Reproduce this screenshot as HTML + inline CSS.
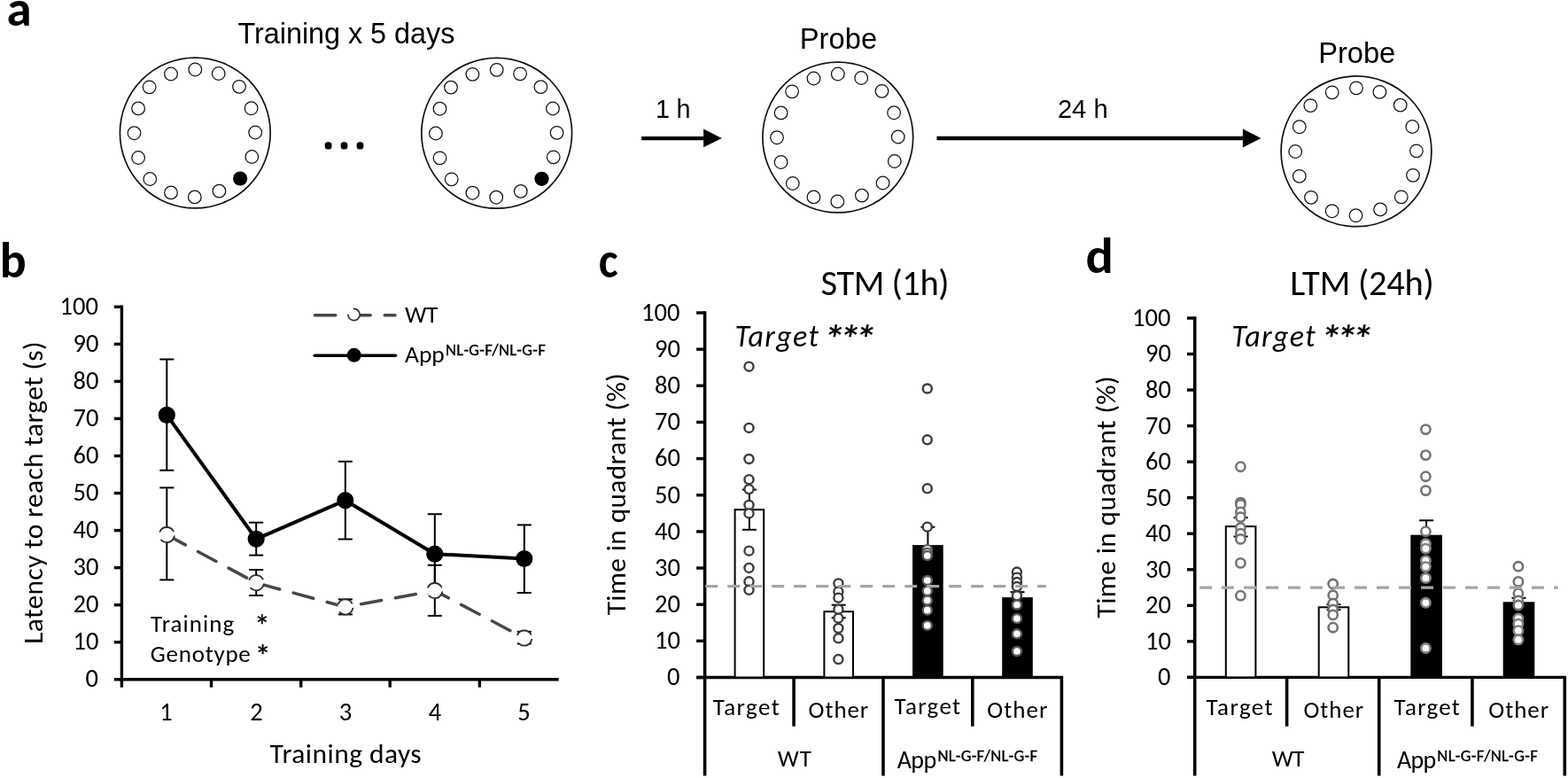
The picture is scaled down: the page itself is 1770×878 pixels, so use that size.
<!DOCTYPE html>
<html><head><meta charset="utf-8"><title>Figure</title>
<style>html,body{margin:0;padding:0;background:#fff;}svg{display:block;}</style>
</head><body>
<svg width="1770" height="878" viewBox="0 0 1770 878">
<rect width="1770" height="878" fill="#fff"/>
<circle cx="220.30" cy="150.00" r="84.9" fill="#fff" stroke="#111" stroke-width="1.7"/>
<circle cx="220.30" cy="78.50" r="7.3" fill="#fff" stroke="#111" stroke-width="1.25"/>
<circle cx="246.70" cy="83.00" r="7.3" fill="#fff" stroke="#111" stroke-width="1.25"/>
<circle cx="270.00" cy="97.80" r="7.3" fill="#fff" stroke="#111" stroke-width="1.25"/>
<circle cx="283.60" cy="122.20" r="7.3" fill="#fff" stroke="#111" stroke-width="1.25"/>
<circle cx="288.20" cy="149.50" r="7.3" fill="#fff" stroke="#111" stroke-width="1.25"/>
<circle cx="284.30" cy="177.00" r="7.3" fill="#fff" stroke="#111" stroke-width="1.25"/>
<circle cx="271.10" cy="201.50" r="8.1" fill="#000" stroke="none" stroke-width="0"/>
<circle cx="247.40" cy="215.60" r="7.3" fill="#fff" stroke="#111" stroke-width="1.25"/>
<circle cx="219.80" cy="222.40" r="7.3" fill="#fff" stroke="#111" stroke-width="1.25"/>
<circle cx="193.00" cy="217.40" r="7.3" fill="#fff" stroke="#111" stroke-width="1.25"/>
<circle cx="169.30" cy="202.00" r="7.3" fill="#fff" stroke="#111" stroke-width="1.25"/>
<circle cx="156.10" cy="178.00" r="7.3" fill="#fff" stroke="#111" stroke-width="1.25"/>
<circle cx="151.50" cy="150.20" r="7.3" fill="#fff" stroke="#111" stroke-width="1.25"/>
<circle cx="156.10" cy="122.40" r="7.3" fill="#fff" stroke="#111" stroke-width="1.25"/>
<circle cx="168.60" cy="98.30" r="7.3" fill="#fff" stroke="#111" stroke-width="1.25"/>
<circle cx="193.00" cy="83.50" r="7.3" fill="#fff" stroke="#111" stroke-width="1.25"/>
<circle cx="560.70" cy="150.30" r="84.9" fill="#fff" stroke="#111" stroke-width="1.7"/>
<circle cx="560.70" cy="78.80" r="7.3" fill="#fff" stroke="#111" stroke-width="1.25"/>
<circle cx="587.10" cy="83.30" r="7.3" fill="#fff" stroke="#111" stroke-width="1.25"/>
<circle cx="610.40" cy="98.10" r="7.3" fill="#fff" stroke="#111" stroke-width="1.25"/>
<circle cx="624.00" cy="122.50" r="7.3" fill="#fff" stroke="#111" stroke-width="1.25"/>
<circle cx="628.60" cy="149.80" r="7.3" fill="#fff" stroke="#111" stroke-width="1.25"/>
<circle cx="624.70" cy="177.30" r="7.3" fill="#fff" stroke="#111" stroke-width="1.25"/>
<circle cx="611.50" cy="201.80" r="8.1" fill="#000" stroke="none" stroke-width="0"/>
<circle cx="587.80" cy="215.90" r="7.3" fill="#fff" stroke="#111" stroke-width="1.25"/>
<circle cx="560.20" cy="222.70" r="7.3" fill="#fff" stroke="#111" stroke-width="1.25"/>
<circle cx="533.40" cy="217.70" r="7.3" fill="#fff" stroke="#111" stroke-width="1.25"/>
<circle cx="509.70" cy="202.30" r="7.3" fill="#fff" stroke="#111" stroke-width="1.25"/>
<circle cx="496.50" cy="178.30" r="7.3" fill="#fff" stroke="#111" stroke-width="1.25"/>
<circle cx="491.90" cy="150.50" r="7.3" fill="#fff" stroke="#111" stroke-width="1.25"/>
<circle cx="496.50" cy="122.70" r="7.3" fill="#fff" stroke="#111" stroke-width="1.25"/>
<circle cx="509.00" cy="98.60" r="7.3" fill="#fff" stroke="#111" stroke-width="1.25"/>
<circle cx="533.40" cy="83.80" r="7.3" fill="#fff" stroke="#111" stroke-width="1.25"/>
<circle cx="945.80" cy="155.00" r="84.9" fill="#fff" stroke="#111" stroke-width="1.7"/>
<circle cx="945.80" cy="83.50" r="7.3" fill="#fff" stroke="#111" stroke-width="1.25"/>
<circle cx="972.20" cy="88.00" r="7.3" fill="#fff" stroke="#111" stroke-width="1.25"/>
<circle cx="995.50" cy="102.80" r="7.3" fill="#fff" stroke="#111" stroke-width="1.25"/>
<circle cx="1009.10" cy="127.20" r="7.3" fill="#fff" stroke="#111" stroke-width="1.25"/>
<circle cx="1013.70" cy="154.50" r="7.3" fill="#fff" stroke="#111" stroke-width="1.25"/>
<circle cx="1009.80" cy="182.00" r="7.3" fill="#fff" stroke="#111" stroke-width="1.25"/>
<circle cx="996.60" cy="206.50" r="7.3" fill="#fff" stroke="#111" stroke-width="1.25"/>
<circle cx="972.90" cy="220.60" r="7.3" fill="#fff" stroke="#111" stroke-width="1.25"/>
<circle cx="945.30" cy="227.40" r="7.3" fill="#fff" stroke="#111" stroke-width="1.25"/>
<circle cx="918.50" cy="222.40" r="7.3" fill="#fff" stroke="#111" stroke-width="1.25"/>
<circle cx="894.80" cy="207.00" r="7.3" fill="#fff" stroke="#111" stroke-width="1.25"/>
<circle cx="881.60" cy="183.00" r="7.3" fill="#fff" stroke="#111" stroke-width="1.25"/>
<circle cx="877.00" cy="155.20" r="7.3" fill="#fff" stroke="#111" stroke-width="1.25"/>
<circle cx="881.60" cy="127.40" r="7.3" fill="#fff" stroke="#111" stroke-width="1.25"/>
<circle cx="894.10" cy="103.30" r="7.3" fill="#fff" stroke="#111" stroke-width="1.25"/>
<circle cx="918.50" cy="88.50" r="7.3" fill="#fff" stroke="#111" stroke-width="1.25"/>
<circle cx="1531.00" cy="170.80" r="84.9" fill="#fff" stroke="#111" stroke-width="1.7"/>
<circle cx="1531.00" cy="99.30" r="7.3" fill="#fff" stroke="#111" stroke-width="1.25"/>
<circle cx="1557.40" cy="103.80" r="7.3" fill="#fff" stroke="#111" stroke-width="1.25"/>
<circle cx="1580.70" cy="118.60" r="7.3" fill="#fff" stroke="#111" stroke-width="1.25"/>
<circle cx="1594.30" cy="143.00" r="7.3" fill="#fff" stroke="#111" stroke-width="1.25"/>
<circle cx="1598.90" cy="170.30" r="7.3" fill="#fff" stroke="#111" stroke-width="1.25"/>
<circle cx="1595.00" cy="197.80" r="7.3" fill="#fff" stroke="#111" stroke-width="1.25"/>
<circle cx="1581.80" cy="222.30" r="7.3" fill="#fff" stroke="#111" stroke-width="1.25"/>
<circle cx="1558.10" cy="236.40" r="7.3" fill="#fff" stroke="#111" stroke-width="1.25"/>
<circle cx="1530.50" cy="243.20" r="7.3" fill="#fff" stroke="#111" stroke-width="1.25"/>
<circle cx="1503.70" cy="238.20" r="7.3" fill="#fff" stroke="#111" stroke-width="1.25"/>
<circle cx="1480.00" cy="222.80" r="7.3" fill="#fff" stroke="#111" stroke-width="1.25"/>
<circle cx="1466.80" cy="198.80" r="7.3" fill="#fff" stroke="#111" stroke-width="1.25"/>
<circle cx="1462.20" cy="171.00" r="7.3" fill="#fff" stroke="#111" stroke-width="1.25"/>
<circle cx="1466.80" cy="143.20" r="7.3" fill="#fff" stroke="#111" stroke-width="1.25"/>
<circle cx="1479.30" cy="119.10" r="7.3" fill="#fff" stroke="#111" stroke-width="1.25"/>
<circle cx="1503.70" cy="104.30" r="7.3" fill="#fff" stroke="#111" stroke-width="1.25"/>
<rect x="366.70" y="160.3" width="7.8" height="8.2" rx="3.3" ry="3.5" fill="#000"/>
<rect x="384.60" y="160.3" width="7.8" height="8.2" rx="3.3" ry="3.5" fill="#000"/>
<rect x="402.60" y="160.3" width="7.8" height="8.2" rx="3.3" ry="3.5" fill="#000"/>
<line x1="724.20" y1="156.10" x2="796.00" y2="156.10" stroke="#000" stroke-width="4.4"/>
<polygon points="794.1,145.4 814.8,155.9 794.1,166.3" fill="#000"/>
<line x1="1057.50" y1="156.00" x2="1405.00" y2="156.00" stroke="#000" stroke-width="4.4"/>
<polygon points="1402.9,145.6 1423.5,156.0 1402.9,166.5" fill="#000"/>
<line x1="137.40" y1="344.60" x2="137.40" y2="775.70" stroke="#000" stroke-width="3.4"/>
<line x1="128.80" y1="766.80" x2="137.40" y2="766.80" stroke="#000" stroke-width="3.4"/>
<line x1="128.80" y1="724.75" x2="137.40" y2="724.75" stroke="#000" stroke-width="3.4"/>
<line x1="128.80" y1="682.70" x2="137.40" y2="682.70" stroke="#000" stroke-width="3.4"/>
<line x1="128.80" y1="640.65" x2="137.40" y2="640.65" stroke="#000" stroke-width="3.4"/>
<line x1="128.80" y1="598.60" x2="137.40" y2="598.60" stroke="#000" stroke-width="3.4"/>
<line x1="128.80" y1="556.55" x2="137.40" y2="556.55" stroke="#000" stroke-width="3.4"/>
<line x1="128.80" y1="514.50" x2="137.40" y2="514.50" stroke="#000" stroke-width="3.4"/>
<line x1="128.80" y1="472.45" x2="137.40" y2="472.45" stroke="#000" stroke-width="3.4"/>
<line x1="128.80" y1="430.40" x2="137.40" y2="430.40" stroke="#000" stroke-width="3.4"/>
<line x1="128.80" y1="388.35" x2="137.40" y2="388.35" stroke="#000" stroke-width="3.4"/>
<line x1="128.80" y1="346.30" x2="137.40" y2="346.30" stroke="#000" stroke-width="3.4"/>
<line x1="135.70" y1="766.80" x2="630.70" y2="766.80" stroke="#000" stroke-width="3.6"/>
<line x1="238.50" y1="766.80" x2="238.50" y2="775.70" stroke="#000" stroke-width="3.4"/>
<line x1="339.70" y1="766.80" x2="339.70" y2="775.70" stroke="#000" stroke-width="3.4"/>
<line x1="440.20" y1="766.80" x2="440.20" y2="775.70" stroke="#000" stroke-width="3.4"/>
<line x1="541.40" y1="766.80" x2="541.40" y2="775.70" stroke="#000" stroke-width="3.4"/>
<line x1="188.30" y1="405.50" x2="188.30" y2="530.80" stroke="#000" stroke-width="2"/>
<line x1="180.30" y1="405.50" x2="196.30" y2="405.50" stroke="#000" stroke-width="2"/>
<line x1="180.30" y1="530.80" x2="196.30" y2="530.80" stroke="#000" stroke-width="2"/>
<line x1="289.20" y1="589.70" x2="289.20" y2="626.60" stroke="#000" stroke-width="2"/>
<line x1="281.20" y1="589.70" x2="297.20" y2="589.70" stroke="#000" stroke-width="2"/>
<line x1="281.20" y1="626.60" x2="297.20" y2="626.60" stroke="#000" stroke-width="2"/>
<line x1="389.80" y1="520.80" x2="389.80" y2="608.50" stroke="#000" stroke-width="2"/>
<line x1="381.80" y1="520.80" x2="397.80" y2="520.80" stroke="#000" stroke-width="2"/>
<line x1="381.80" y1="608.50" x2="397.80" y2="608.50" stroke="#000" stroke-width="2"/>
<line x1="490.80" y1="580.20" x2="490.80" y2="670.20" stroke="#000" stroke-width="2"/>
<line x1="482.80" y1="580.20" x2="498.80" y2="580.20" stroke="#000" stroke-width="2"/>
<line x1="482.80" y1="670.20" x2="498.80" y2="670.20" stroke="#000" stroke-width="2"/>
<line x1="591.80" y1="592.40" x2="591.80" y2="669.00" stroke="#000" stroke-width="2"/>
<line x1="583.80" y1="592.40" x2="599.80" y2="592.40" stroke="#000" stroke-width="2"/>
<line x1="583.80" y1="669.00" x2="599.80" y2="669.00" stroke="#000" stroke-width="2"/>
<line x1="188.30" y1="550.40" x2="188.30" y2="654.40" stroke="#000" stroke-width="2"/>
<line x1="180.30" y1="550.40" x2="196.30" y2="550.40" stroke="#000" stroke-width="2"/>
<line x1="180.30" y1="654.40" x2="196.30" y2="654.40" stroke="#000" stroke-width="2"/>
<line x1="289.20" y1="643.00" x2="289.20" y2="672.00" stroke="#000" stroke-width="2"/>
<line x1="281.20" y1="643.00" x2="297.20" y2="643.00" stroke="#000" stroke-width="2"/>
<line x1="281.20" y1="672.00" x2="297.20" y2="672.00" stroke="#000" stroke-width="2"/>
<line x1="389.80" y1="676.40" x2="389.80" y2="693.40" stroke="#000" stroke-width="2"/>
<line x1="381.80" y1="676.40" x2="397.80" y2="676.40" stroke="#000" stroke-width="2"/>
<line x1="381.80" y1="693.40" x2="397.80" y2="693.40" stroke="#000" stroke-width="2"/>
<line x1="490.80" y1="637.80" x2="490.80" y2="694.90" stroke="#000" stroke-width="2"/>
<line x1="482.80" y1="637.80" x2="498.80" y2="637.80" stroke="#000" stroke-width="2"/>
<line x1="482.80" y1="694.90" x2="498.80" y2="694.90" stroke="#000" stroke-width="2"/>
<line x1="591.80" y1="712.90" x2="591.80" y2="726.50" stroke="#000" stroke-width="2"/>
<line x1="583.80" y1="712.90" x2="599.80" y2="712.90" stroke="#000" stroke-width="2"/>
<line x1="583.80" y1="726.50" x2="599.80" y2="726.50" stroke="#000" stroke-width="2"/>
<polyline points="188.3,468.4 289.2,608.3 389.8,564.7 490.8,625.2 591.8,630.5" fill="none" stroke="#000" stroke-width="4" stroke-linejoin="round"/>
<polyline points="188.3,603.6 289.2,657.8 389.8,685.0 490.8,666.6 591.8,720.1" fill="none" stroke="#474747" stroke-width="3.5" stroke-dasharray="23.3 16.1" stroke-dashoffset="-0.45" stroke-linecap="round" stroke-linejoin="round"/>
<circle cx="188.30" cy="468.40" r="9.6" fill="#000" stroke="none" stroke-width="0"/>
<circle cx="289.20" cy="608.30" r="9.6" fill="#000" stroke="none" stroke-width="0"/>
<circle cx="389.80" cy="564.70" r="9.6" fill="#000" stroke="none" stroke-width="0"/>
<circle cx="490.80" cy="625.20" r="9.6" fill="#000" stroke="none" stroke-width="0"/>
<circle cx="591.80" cy="630.50" r="9.6" fill="#000" stroke="none" stroke-width="0"/>
<circle cx="188.30" cy="603.60" r="8.6" fill="#fff" stroke="#2e2e2e" stroke-width="1.8" stroke-dasharray="18.7 10.3" stroke-dashoffset="27.35" stroke-linecap="round"/>
<circle cx="289.20" cy="657.80" r="8.6" fill="#fff" stroke="#2e2e2e" stroke-width="1.8" stroke-dasharray="18.7 10.3" stroke-dashoffset="27.35" stroke-linecap="round"/>
<circle cx="389.80" cy="685.00" r="8.6" fill="#fff" stroke="#2e2e2e" stroke-width="1.8" stroke-dasharray="18.7 10.3" stroke-dashoffset="27.35" stroke-linecap="round"/>
<circle cx="490.80" cy="666.60" r="8.6" fill="#fff" stroke="#2e2e2e" stroke-width="1.8" stroke-dasharray="18.7 10.3" stroke-dashoffset="27.35" stroke-linecap="round"/>
<circle cx="591.80" cy="720.10" r="8.6" fill="#fff" stroke="#2e2e2e" stroke-width="1.8" stroke-dasharray="18.7 10.3" stroke-dashoffset="27.35" stroke-linecap="round"/>
<line x1="355.45" y1="355.8" x2="446" y2="355.8" stroke="#474747" stroke-width="3.5" stroke-dasharray="23.3 16.1" stroke-linecap="round"/>
<circle cx="399.50" cy="355.00" r="6.6" fill="#fff" stroke="#2e2e2e" stroke-width="1.7" stroke-dasharray="18.7 10.3" stroke-dashoffset="27.35" stroke-linecap="round"/>
<line x1="355.20" y1="401.20" x2="446.50" y2="401.20" stroke="#000" stroke-width="3.6" stroke-linecap="round"/>
<circle cx="399.70" cy="400.80" r="8.0" fill="#000" stroke="none" stroke-width="0"/>
<line x1="795.60" y1="351.30" x2="795.60" y2="875.50" stroke="#000" stroke-width="3.6"/>
<line x1="786.10" y1="764.50" x2="795.60" y2="764.50" stroke="#000" stroke-width="3.4"/>
<line x1="786.10" y1="723.35" x2="795.60" y2="723.35" stroke="#000" stroke-width="3.4"/>
<line x1="786.10" y1="682.20" x2="795.60" y2="682.20" stroke="#000" stroke-width="3.4"/>
<line x1="786.10" y1="641.05" x2="795.60" y2="641.05" stroke="#000" stroke-width="3.4"/>
<line x1="786.10" y1="599.90" x2="795.60" y2="599.90" stroke="#000" stroke-width="3.4"/>
<line x1="786.10" y1="558.75" x2="795.60" y2="558.75" stroke="#000" stroke-width="3.4"/>
<line x1="786.10" y1="517.60" x2="795.60" y2="517.60" stroke="#000" stroke-width="3.4"/>
<line x1="786.10" y1="476.45" x2="795.60" y2="476.45" stroke="#000" stroke-width="3.4"/>
<line x1="786.10" y1="435.30" x2="795.60" y2="435.30" stroke="#000" stroke-width="3.4"/>
<line x1="786.10" y1="394.15" x2="795.60" y2="394.15" stroke="#000" stroke-width="3.4"/>
<line x1="786.10" y1="353.00" x2="795.60" y2="353.00" stroke="#000" stroke-width="3.4"/>
<line x1="786.10" y1="764.50" x2="1200.10" y2="764.50" stroke="#000" stroke-width="3.4"/>
<line x1="896.10" y1="764.50" x2="896.10" y2="819.70" stroke="#000" stroke-width="3.6"/>
<line x1="997.00" y1="764.50" x2="997.00" y2="875.50" stroke="#000" stroke-width="3.6"/>
<line x1="1097.80" y1="764.50" x2="1097.80" y2="819.70" stroke="#000" stroke-width="3.6"/>
<line x1="1198.40" y1="764.50" x2="1198.40" y2="875.50" stroke="#000" stroke-width="3.6"/>
<rect x="829.60" y="575.20" width="32.60" height="189.30" fill="#fff" stroke="#000" stroke-width="2"/>
<rect x="930.40" y="690.20" width="32.60" height="74.30" fill="#fff" stroke="#000" stroke-width="2"/>
<rect x="1031.10" y="616.10" width="32.60" height="148.40" fill="#000" stroke="#000" stroke-width="2"/>
<rect x="1132.20" y="675.10" width="32.60" height="89.40" fill="#000" stroke="#000" stroke-width="2"/>
<line x1="845.90" y1="552.60" x2="845.90" y2="597.80" stroke="#000" stroke-width="2"/>
<line x1="837.90" y1="552.60" x2="853.90" y2="552.60" stroke="#000" stroke-width="2"/>
<line x1="837.90" y1="597.80" x2="853.90" y2="597.80" stroke="#000" stroke-width="2"/>
<line x1="946.70" y1="682.70" x2="946.70" y2="697.20" stroke="#000" stroke-width="2"/>
<line x1="938.70" y1="682.70" x2="954.70" y2="682.70" stroke="#000" stroke-width="2"/>
<line x1="938.70" y1="697.20" x2="954.70" y2="697.20" stroke="#000" stroke-width="2"/>
<line x1="1047.40" y1="594.70" x2="1047.40" y2="620.00" stroke="#000" stroke-width="2"/>
<line x1="1039.40" y1="594.70" x2="1055.40" y2="594.70" stroke="#000" stroke-width="2"/>
<line x1="1148.50" y1="668.20" x2="1148.50" y2="680.00" stroke="#000" stroke-width="2"/>
<line x1="1140.50" y1="668.20" x2="1156.50" y2="668.20" stroke="#000" stroke-width="2"/>
<circle cx="845.50" cy="413.70" r="5.05" fill="#fff" stroke="#3c3c3c" stroke-width="2.4"/>
<circle cx="845.50" cy="482.90" r="5.05" fill="#fff" stroke="#3c3c3c" stroke-width="2.4"/>
<circle cx="845.50" cy="518.00" r="5.05" fill="#fff" stroke="#3c3c3c" stroke-width="2.4"/>
<circle cx="845.50" cy="541.20" r="5.05" fill="#fff" stroke="#3c3c3c" stroke-width="2.4"/>
<circle cx="845.50" cy="552.10" r="5.05" fill="#fff" stroke="#3c3c3c" stroke-width="2.4"/>
<circle cx="845.50" cy="569.90" r="5.05" fill="#fff" stroke="#3c3c3c" stroke-width="2.4"/>
<circle cx="845.50" cy="579.40" r="5.05" fill="#fff" stroke="#3c3c3c" stroke-width="2.4"/>
<circle cx="845.50" cy="621.70" r="5.05" fill="#fff" stroke="#3c3c3c" stroke-width="2.4"/>
<circle cx="845.50" cy="640.90" r="5.05" fill="#fff" stroke="#3c3c3c" stroke-width="2.4"/>
<circle cx="845.50" cy="656.30" r="5.05" fill="#fff" stroke="#3c3c3c" stroke-width="2.4"/>
<circle cx="845.50" cy="665.80" r="5.05" fill="#fff" stroke="#3c3c3c" stroke-width="2.4"/>
<circle cx="946.40" cy="658.40" r="5.05" fill="#fff" stroke="#3c3c3c" stroke-width="2.4"/>
<circle cx="946.40" cy="667.70" r="5.05" fill="#fff" stroke="#3c3c3c" stroke-width="2.4"/>
<circle cx="946.40" cy="674.70" r="5.05" fill="#fff" stroke="#3c3c3c" stroke-width="2.4"/>
<circle cx="946.40" cy="687.70" r="5.05" fill="#fff" stroke="#3c3c3c" stroke-width="2.4"/>
<circle cx="946.40" cy="697.70" r="5.05" fill="#fff" stroke="#3c3c3c" stroke-width="2.4"/>
<circle cx="946.40" cy="709.00" r="5.05" fill="#fff" stroke="#3c3c3c" stroke-width="2.4"/>
<circle cx="946.40" cy="720.30" r="5.05" fill="#fff" stroke="#3c3c3c" stroke-width="2.4"/>
<circle cx="946.40" cy="744.10" r="5.05" fill="#fff" stroke="#3c3c3c" stroke-width="2.4"/>
<circle cx="1046.80" cy="438.50" r="5.05" fill="#fff" stroke="#3c3c3c" stroke-width="2.4"/>
<circle cx="1046.80" cy="496.30" r="5.05" fill="#fff" stroke="#3c3c3c" stroke-width="2.4"/>
<circle cx="1046.80" cy="551.30" r="5.05" fill="#fff" stroke="#3c3c3c" stroke-width="2.4"/>
<circle cx="1046.80" cy="594.70" r="5.05" fill="#fff" stroke="#3c3c3c" stroke-width="2.4"/>
<circle cx="1046.80" cy="620.20" r="5.05" fill="#fff" stroke="#5a5a5a" stroke-width="2.4"/>
<circle cx="1046.80" cy="623.90" r="5.05" fill="#fff" stroke="#5a5a5a" stroke-width="2.4"/>
<circle cx="1046.80" cy="627.10" r="5.05" fill="#fff" stroke="#5a5a5a" stroke-width="2.4"/>
<circle cx="1046.80" cy="655.00" r="5.05" fill="#fff" stroke="#5a5a5a" stroke-width="2.4"/>
<circle cx="1046.80" cy="666.90" r="5.05" fill="#fff" stroke="#5a5a5a" stroke-width="2.4"/>
<circle cx="1046.80" cy="677.60" r="5.05" fill="#fff" stroke="#5a5a5a" stroke-width="2.4"/>
<circle cx="1046.80" cy="688.70" r="5.05" fill="#fff" stroke="#5a5a5a" stroke-width="2.4"/>
<circle cx="1046.80" cy="705.90" r="5.05" fill="#fff" stroke="#5a5a5a" stroke-width="2.4"/>
<circle cx="1147.90" cy="645.60" r="5.05" fill="#fff" stroke="#3c3c3c" stroke-width="2.4"/>
<circle cx="1147.90" cy="651.70" r="5.05" fill="#fff" stroke="#3c3c3c" stroke-width="2.4"/>
<circle cx="1147.90" cy="657.10" r="5.05" fill="#fff" stroke="#3c3c3c" stroke-width="2.4"/>
<circle cx="1147.90" cy="662.00" r="5.05" fill="#fff" stroke="#3c3c3c" stroke-width="2.4"/>
<circle cx="1147.90" cy="672.30" r="5.05" fill="#fff" stroke="#3c3c3c" stroke-width="2.4"/>
<circle cx="1147.90" cy="682.50" r="5.05" fill="#fff" stroke="#5a5a5a" stroke-width="2.4"/>
<circle cx="1147.90" cy="698.10" r="5.05" fill="#fff" stroke="#5a5a5a" stroke-width="2.4"/>
<circle cx="1147.90" cy="715.30" r="5.05" fill="#fff" stroke="#5a5a5a" stroke-width="2.4"/>
<circle cx="1147.90" cy="735.00" r="5.05" fill="#fff" stroke="#5a5a5a" stroke-width="2.4"/>
<line x1="796.2" y1="661.6" x2="1180.7" y2="661.6" stroke="#a5a5a5" stroke-width="3.2" stroke-dasharray="14 11"/>
<line x1="1348.70" y1="357.30" x2="1348.70" y2="875.50" stroke="#000" stroke-width="3.6"/>
<line x1="1340.00" y1="764.40" x2="1348.70" y2="764.40" stroke="#000" stroke-width="3.4"/>
<line x1="1340.00" y1="723.86" x2="1348.70" y2="723.86" stroke="#000" stroke-width="3.4"/>
<line x1="1340.00" y1="683.32" x2="1348.70" y2="683.32" stroke="#000" stroke-width="3.4"/>
<line x1="1340.00" y1="642.78" x2="1348.70" y2="642.78" stroke="#000" stroke-width="3.4"/>
<line x1="1340.00" y1="602.24" x2="1348.70" y2="602.24" stroke="#000" stroke-width="3.4"/>
<line x1="1340.00" y1="561.70" x2="1348.70" y2="561.70" stroke="#000" stroke-width="3.4"/>
<line x1="1340.00" y1="521.16" x2="1348.70" y2="521.16" stroke="#000" stroke-width="3.4"/>
<line x1="1340.00" y1="480.62" x2="1348.70" y2="480.62" stroke="#000" stroke-width="3.4"/>
<line x1="1340.00" y1="440.08" x2="1348.70" y2="440.08" stroke="#000" stroke-width="3.4"/>
<line x1="1340.00" y1="399.54" x2="1348.70" y2="399.54" stroke="#000" stroke-width="3.4"/>
<line x1="1340.00" y1="359.00" x2="1348.70" y2="359.00" stroke="#000" stroke-width="3.4"/>
<line x1="1340.00" y1="764.40" x2="1768.00" y2="764.40" stroke="#000" stroke-width="3.4"/>
<line x1="1452.60" y1="764.40" x2="1452.60" y2="819.70" stroke="#000" stroke-width="3.6"/>
<line x1="1556.70" y1="764.40" x2="1556.70" y2="875.50" stroke="#000" stroke-width="3.6"/>
<line x1="1661.90" y1="764.40" x2="1661.90" y2="819.70" stroke="#000" stroke-width="3.6"/>
<line x1="1766.30" y1="764.40" x2="1766.30" y2="875.50" stroke="#000" stroke-width="3.6"/>
<rect x="1383.80" y="594.10" width="33.60" height="170.30" fill="#fff" stroke="#000" stroke-width="2"/>
<rect x="1488.70" y="685.30" width="33.60" height="79.10" fill="#fff" stroke="#000" stroke-width="2"/>
<rect x="1593.30" y="604.70" width="33.60" height="159.70" fill="#000" stroke="#000" stroke-width="2"/>
<rect x="1697.70" y="680.30" width="33.60" height="84.10" fill="#000" stroke="#000" stroke-width="2"/>
<line x1="1400.60" y1="584.10" x2="1400.60" y2="605.50" stroke="#000" stroke-width="2"/>
<line x1="1392.60" y1="584.10" x2="1408.60" y2="584.10" stroke="#000" stroke-width="2"/>
<line x1="1392.60" y1="605.50" x2="1408.60" y2="605.50" stroke="#000" stroke-width="2"/>
<line x1="1505.50" y1="682.20" x2="1505.50" y2="688.20" stroke="#000" stroke-width="2"/>
<line x1="1497.50" y1="682.20" x2="1513.50" y2="682.20" stroke="#000" stroke-width="2"/>
<line x1="1497.50" y1="688.20" x2="1513.50" y2="688.20" stroke="#000" stroke-width="2"/>
<line x1="1610.10" y1="587.30" x2="1610.10" y2="610.00" stroke="#000" stroke-width="2"/>
<line x1="1602.10" y1="587.30" x2="1618.10" y2="587.30" stroke="#000" stroke-width="2"/>
<line x1="1714.50" y1="674.80" x2="1714.50" y2="686.00" stroke="#000" stroke-width="2"/>
<line x1="1706.50" y1="674.80" x2="1722.50" y2="674.80" stroke="#000" stroke-width="2"/>
<circle cx="1400.40" cy="526.70" r="5.15" fill="#fff" stroke="#747474" stroke-width="2.6"/>
<circle cx="1400.40" cy="567.10" r="5.15" fill="#fff" stroke="#747474" stroke-width="2.6"/>
<circle cx="1400.40" cy="569.30" r="5.15" fill="#fff" stroke="#747474" stroke-width="2.6"/>
<circle cx="1400.40" cy="577.90" r="5.15" fill="#fff" stroke="#747474" stroke-width="2.6"/>
<circle cx="1400.40" cy="583.60" r="5.15" fill="#fff" stroke="#747474" stroke-width="2.6"/>
<circle cx="1400.40" cy="595.50" r="5.15" fill="#fff" stroke="#747474" stroke-width="2.6"/>
<circle cx="1400.40" cy="602.10" r="5.15" fill="#fff" stroke="#747474" stroke-width="2.6"/>
<circle cx="1400.40" cy="608.40" r="5.15" fill="#fff" stroke="#747474" stroke-width="2.6"/>
<circle cx="1400.40" cy="635.40" r="5.15" fill="#fff" stroke="#747474" stroke-width="2.6"/>
<circle cx="1400.40" cy="672.20" r="5.15" fill="#fff" stroke="#747474" stroke-width="2.6"/>
<circle cx="1504.70" cy="659.00" r="5.15" fill="#fff" stroke="#747474" stroke-width="2.6"/>
<circle cx="1504.70" cy="671.80" r="5.15" fill="#fff" stroke="#747474" stroke-width="2.6"/>
<circle cx="1504.70" cy="681.10" r="5.15" fill="#fff" stroke="#747474" stroke-width="2.6"/>
<circle cx="1504.70" cy="688.00" r="5.15" fill="#fff" stroke="#747474" stroke-width="2.6"/>
<circle cx="1504.70" cy="693.90" r="5.15" fill="#fff" stroke="#747474" stroke-width="2.6"/>
<circle cx="1504.70" cy="708.20" r="5.15" fill="#fff" stroke="#747474" stroke-width="2.6"/>
<circle cx="1609.40" cy="484.60" r="5.15" fill="#fff" stroke="#747474" stroke-width="2.6"/>
<circle cx="1609.40" cy="513.60" r="5.15" fill="#fff" stroke="#747474" stroke-width="2.6"/>
<circle cx="1609.40" cy="537.70" r="5.15" fill="#fff" stroke="#747474" stroke-width="2.6"/>
<circle cx="1609.40" cy="553.60" r="5.15" fill="#fff" stroke="#747474" stroke-width="2.6"/>
<circle cx="1609.40" cy="599.70" r="5.15" fill="#fff" stroke="#747474" stroke-width="2.6"/>
<circle cx="1609.40" cy="613.60" r="5.15" fill="#fff" stroke="#828282" stroke-width="2.6"/>
<circle cx="1609.40" cy="619.10" r="5.15" fill="#fff" stroke="#828282" stroke-width="2.6"/>
<circle cx="1609.40" cy="632.60" r="5.15" fill="#fff" stroke="#828282" stroke-width="2.6"/>
<circle cx="1609.40" cy="639.60" r="5.15" fill="#fff" stroke="#828282" stroke-width="2.6"/>
<circle cx="1609.40" cy="652.40" r="5.15" fill="#fff" stroke="#828282" stroke-width="2.6"/>
<circle cx="1609.40" cy="680.30" r="5.15" fill="#fff" stroke="#828282" stroke-width="2.6"/>
<circle cx="1609.40" cy="731.50" r="5.15" fill="#fff" stroke="#828282" stroke-width="2.6"/>
<circle cx="1713.90" cy="639.30" r="5.15" fill="#fff" stroke="#747474" stroke-width="2.6"/>
<circle cx="1713.90" cy="656.40" r="5.15" fill="#fff" stroke="#747474" stroke-width="2.6"/>
<circle cx="1713.90" cy="669.70" r="5.15" fill="#fff" stroke="#747474" stroke-width="2.6"/>
<circle cx="1713.90" cy="677.90" r="5.15" fill="#fff" stroke="#747474" stroke-width="2.6"/>
<circle cx="1713.90" cy="683.00" r="5.15" fill="#fff" stroke="#747474" stroke-width="2.6"/>
<circle cx="1713.90" cy="698.00" r="5.15" fill="#fff" stroke="#828282" stroke-width="2.6"/>
<circle cx="1713.90" cy="704.10" r="5.15" fill="#fff" stroke="#828282" stroke-width="2.6"/>
<circle cx="1713.90" cy="711.70" r="5.15" fill="#fff" stroke="#828282" stroke-width="2.6"/>
<circle cx="1713.90" cy="721.90" r="5.15" fill="#fff" stroke="#828282" stroke-width="2.6"/>
<line x1="1354.0" y1="663.2" x2="1758.7" y2="663.2" stroke="#a5a5a5" stroke-width="3.2" stroke-dasharray="14 11"/>
<text x="268.50" y="48.50" font-family="'Liberation Sans', Arial, sans-serif" font-size="32.4" textLength="244.85" lengthAdjust="spacing">Training x 5 days</text>
<text x="739.90" y="132.70" font-family="'Liberation Sans', Arial, sans-serif" font-size="28.8" textLength="39.65" lengthAdjust="spacing">1 h</text>
<text x="902.70" y="54.60" font-family="'Liberation Sans', Arial, sans-serif" font-size="32.7" textLength="87.53" lengthAdjust="spacing">Probe</text>
<text x="1193.90" y="132.80" font-family="'Liberation Sans', Arial, sans-serif" font-size="29.2" textLength="56.71" lengthAdjust="spacing">24 h</text>
<text x="1488.20" y="70.60" font-family="'Liberation Sans', Arial, sans-serif" font-size="32.7" textLength="87.03" lengthAdjust="spacing">Probe</text>
<text x="7.60" y="29.20" font-family="Carlito, 'Liberation Sans', sans-serif" font-size="57" font-weight="700" textLength="28.14" lengthAdjust="spacingAndGlyphs">a</text>
<text x="-0.29" y="313.30" font-family="Carlito, 'Liberation Sans', sans-serif" font-size="56" font-weight="700" textLength="29.94" lengthAdjust="spacingAndGlyphs">b</text>
<text x="675.77" y="313.30" font-family="Carlito, 'Liberation Sans', sans-serif" font-size="56" font-weight="700" textLength="21.84" lengthAdjust="spacingAndGlyphs">c</text>
<text x="1225.45" y="308.10" font-family="Carlito, 'Liberation Sans', sans-serif" font-size="57" font-weight="700" textLength="31.33" lengthAdjust="spacingAndGlyphs">d</text>
<text x="96.60" y="775.40" font-family="Carlito, 'Liberation Sans', sans-serif" font-size="28.5" textLength="14.45" lengthAdjust="spacingAndGlyphs">0</text>
<text x="82.60" y="733.35" font-family="Carlito, 'Liberation Sans', sans-serif" font-size="28.5" textLength="28.89" lengthAdjust="spacing">10</text>
<text x="82.60" y="691.30" font-family="Carlito, 'Liberation Sans', sans-serif" font-size="28.5" textLength="28.89" lengthAdjust="spacing">20</text>
<text x="82.60" y="649.25" font-family="Carlito, 'Liberation Sans', sans-serif" font-size="28.5" textLength="28.89" lengthAdjust="spacing">30</text>
<text x="82.60" y="607.20" font-family="Carlito, 'Liberation Sans', sans-serif" font-size="28.5" textLength="28.89" lengthAdjust="spacing">40</text>
<text x="82.60" y="565.15" font-family="Carlito, 'Liberation Sans', sans-serif" font-size="28.5" textLength="28.89" lengthAdjust="spacing">50</text>
<text x="82.60" y="523.10" font-family="Carlito, 'Liberation Sans', sans-serif" font-size="28.5" textLength="28.89" lengthAdjust="spacing">60</text>
<text x="82.60" y="481.05" font-family="Carlito, 'Liberation Sans', sans-serif" font-size="28.5" textLength="28.89" lengthAdjust="spacing">70</text>
<text x="82.60" y="439.00" font-family="Carlito, 'Liberation Sans', sans-serif" font-size="28.5" textLength="28.89" lengthAdjust="spacing">80</text>
<text x="82.60" y="396.95" font-family="Carlito, 'Liberation Sans', sans-serif" font-size="28.5" textLength="28.89" lengthAdjust="spacing">90</text>
<text x="67.60" y="354.90" font-family="Carlito, 'Liberation Sans', sans-serif" font-size="28.5" textLength="43.34" lengthAdjust="spacing">100</text>
<text x="180.30" y="812.80" font-family="Carlito, 'Liberation Sans', sans-serif" font-size="28.5" textLength="14.45" lengthAdjust="spacingAndGlyphs">1</text>
<text x="282.20" y="812.80" font-family="Carlito, 'Liberation Sans', sans-serif" font-size="28.5" textLength="14.45" lengthAdjust="spacingAndGlyphs">2</text>
<text x="382.80" y="812.80" font-family="Carlito, 'Liberation Sans', sans-serif" font-size="28.5" textLength="14.45" lengthAdjust="spacingAndGlyphs">3</text>
<text x="483.80" y="812.80" font-family="Carlito, 'Liberation Sans', sans-serif" font-size="28.5" textLength="14.45" lengthAdjust="spacingAndGlyphs">4</text>
<text x="584.30" y="812.80" font-family="Carlito, 'Liberation Sans', sans-serif" font-size="28.5" textLength="14.45" lengthAdjust="spacingAndGlyphs">5</text>
<text x="304.60" y="860.80" font-family="Carlito, 'Liberation Sans', sans-serif" font-size="31.5" textLength="171.07" lengthAdjust="spacing">Training days</text>
<text transform="translate(48.00,726.80) rotate(-90)" x="0" y="0" font-family="Carlito, 'Liberation Sans', sans-serif" font-size="31.5" textLength="341.35" lengthAdjust="spacing">Latency to reach target (s)</text>
<text x="457.00" y="363.60" font-family="Carlito, 'Liberation Sans', sans-serif" font-size="27.5" textLength="37.48" lengthAdjust="spacing">WT</text>
<text x="457.00" y="408.80" font-family="Carlito, 'Liberation Sans', sans-serif" font-size="27.5" textLength="44.81" lengthAdjust="spacing">App</text>
<text x="503.00" y="400.90" font-family="Carlito, 'Liberation Sans', sans-serif" font-size="18.6" stroke="#000" stroke-width="0.35" textLength="112.85" lengthAdjust="spacing">NL-G-F/NL-G-F</text>
<text x="170.10" y="712.70" font-family="Carlito, 'Liberation Sans', sans-serif" font-size="27" textLength="94.15" lengthAdjust="spacing">Training</text>
<text x="287.12" y="717.50" font-family="Carlito, 'Liberation Sans', sans-serif" font-size="35" stroke="#000" stroke-width="0.3" textLength="17.79" lengthAdjust="spacingAndGlyphs">*</text>
<text x="169.80" y="746.60" font-family="Carlito, 'Liberation Sans', sans-serif" font-size="27" textLength="112.98" lengthAdjust="spacing">Genotype</text>
<text x="287.50" y="751.90" font-family="Carlito, 'Liberation Sans', sans-serif" font-size="35" stroke="#000" stroke-width="0.3" textLength="18.31" lengthAdjust="spacingAndGlyphs">*</text>
<text x="926.50" y="332.70" font-family="Carlito, 'Liberation Sans', sans-serif" font-size="40.5" textLength="145.02" lengthAdjust="spacing">STM (1h)</text>
<text x="829.40" y="391.00" font-family="Carlito, 'Liberation Sans', sans-serif" font-size="34" font-style="italic" textLength="94.45" lengthAdjust="spacing">Target</text>
<text x="928.38" y="399.10" font-family="Carlito, 'Liberation Sans', sans-serif" font-size="46" font-style="italic" stroke="#000" stroke-width="0.4" textLength="25.60" lengthAdjust="spacingAndGlyphs">*</text>
<text x="946.13" y="399.10" font-family="Carlito, 'Liberation Sans', sans-serif" font-size="46" font-style="italic" stroke="#000" stroke-width="0.4" textLength="25.60" lengthAdjust="spacingAndGlyphs">*</text>
<text x="963.88" y="399.10" font-family="Carlito, 'Liberation Sans', sans-serif" font-size="46" font-style="italic" stroke="#000" stroke-width="0.4" textLength="25.60" lengthAdjust="spacingAndGlyphs">*</text>
<text x="753.00" y="773.30" font-family="Carlito, 'Liberation Sans', sans-serif" font-size="28.5" textLength="14.45" lengthAdjust="spacingAndGlyphs">0</text>
<text x="739.00" y="732.15" font-family="Carlito, 'Liberation Sans', sans-serif" font-size="28.5" textLength="28.89" lengthAdjust="spacing">10</text>
<text x="739.00" y="691.00" font-family="Carlito, 'Liberation Sans', sans-serif" font-size="28.5" textLength="28.89" lengthAdjust="spacing">20</text>
<text x="739.00" y="649.85" font-family="Carlito, 'Liberation Sans', sans-serif" font-size="28.5" textLength="28.89" lengthAdjust="spacing">30</text>
<text x="739.00" y="608.70" font-family="Carlito, 'Liberation Sans', sans-serif" font-size="28.5" textLength="28.89" lengthAdjust="spacing">40</text>
<text x="739.00" y="567.55" font-family="Carlito, 'Liberation Sans', sans-serif" font-size="28.5" textLength="28.89" lengthAdjust="spacing">50</text>
<text x="739.00" y="526.40" font-family="Carlito, 'Liberation Sans', sans-serif" font-size="28.5" textLength="28.89" lengthAdjust="spacing">60</text>
<text x="739.00" y="485.25" font-family="Carlito, 'Liberation Sans', sans-serif" font-size="28.5" textLength="28.89" lengthAdjust="spacing">70</text>
<text x="739.00" y="444.10" font-family="Carlito, 'Liberation Sans', sans-serif" font-size="28.5" textLength="28.89" lengthAdjust="spacing">80</text>
<text x="739.00" y="402.95" font-family="Carlito, 'Liberation Sans', sans-serif" font-size="28.5" textLength="28.89" lengthAdjust="spacing">90</text>
<text x="724.00" y="361.80" font-family="Carlito, 'Liberation Sans', sans-serif" font-size="28.5" textLength="43.34" lengthAdjust="spacing">100</text>
<text transform="translate(706.00,694.30) rotate(-90)" x="0" y="0" font-family="Carlito, 'Liberation Sans', sans-serif" font-size="31.3" textLength="273.04" lengthAdjust="spacing">Time in quadrant (%)</text>
<text x="804.80" y="806.80" font-family="Carlito, 'Liberation Sans', sans-serif" font-size="27" textLength="74.94" lengthAdjust="spacing">Target</text>
<text x="912.60" y="810.10" font-family="Carlito, 'Liberation Sans', sans-serif" font-size="27" textLength="67.67" lengthAdjust="spacing">Other</text>
<text x="1009.60" y="806.40" font-family="Carlito, 'Liberation Sans', sans-serif" font-size="27" textLength="74.44" lengthAdjust="spacing">Target</text>
<text x="1114.30" y="809.50" font-family="Carlito, 'Liberation Sans', sans-serif" font-size="27" textLength="68.07" lengthAdjust="spacing">Other</text>
<text x="877.80" y="865.00" font-family="Carlito, 'Liberation Sans', sans-serif" font-size="27" textLength="38.19" lengthAdjust="spacing">WT</text>
<text x="1012.70" y="867.00" font-family="Carlito, 'Liberation Sans', sans-serif" font-size="28" textLength="44.42" lengthAdjust="spacing">App</text>
<text x="1058.40" y="858.60" font-family="Carlito, 'Liberation Sans', sans-serif" font-size="18.6" stroke="#000" stroke-width="0.35" textLength="112.55" lengthAdjust="spacing">NL-G-F/NL-G-F</text>
<text x="1456.30" y="332.70" font-family="Carlito, 'Liberation Sans', sans-serif" font-size="40.5" textLength="162.58" lengthAdjust="spacing">LTM (24h)</text>
<text x="1390.20" y="391.00" font-family="Carlito, 'Liberation Sans', sans-serif" font-size="34" font-style="italic" textLength="94.45" lengthAdjust="spacing">Target</text>
<text x="1489.18" y="399.10" font-family="Carlito, 'Liberation Sans', sans-serif" font-size="46" font-style="italic" stroke="#000" stroke-width="0.4" textLength="25.60" lengthAdjust="spacingAndGlyphs">*</text>
<text x="1506.93" y="399.10" font-family="Carlito, 'Liberation Sans', sans-serif" font-size="46" font-style="italic" stroke="#000" stroke-width="0.4" textLength="25.60" lengthAdjust="spacingAndGlyphs">*</text>
<text x="1524.68" y="399.10" font-family="Carlito, 'Liberation Sans', sans-serif" font-size="46" font-style="italic" stroke="#000" stroke-width="0.4" textLength="25.60" lengthAdjust="spacingAndGlyphs">*</text>
<text x="1307.00" y="773.30" font-family="Carlito, 'Liberation Sans', sans-serif" font-size="28.5" textLength="14.45" lengthAdjust="spacingAndGlyphs">0</text>
<text x="1293.00" y="732.76" font-family="Carlito, 'Liberation Sans', sans-serif" font-size="28.5" textLength="28.89" lengthAdjust="spacing">10</text>
<text x="1293.00" y="692.22" font-family="Carlito, 'Liberation Sans', sans-serif" font-size="28.5" textLength="28.89" lengthAdjust="spacing">20</text>
<text x="1293.00" y="651.68" font-family="Carlito, 'Liberation Sans', sans-serif" font-size="28.5" textLength="28.89" lengthAdjust="spacing">30</text>
<text x="1293.00" y="611.14" font-family="Carlito, 'Liberation Sans', sans-serif" font-size="28.5" textLength="28.89" lengthAdjust="spacing">40</text>
<text x="1293.00" y="570.60" font-family="Carlito, 'Liberation Sans', sans-serif" font-size="28.5" textLength="28.89" lengthAdjust="spacing">50</text>
<text x="1293.00" y="530.06" font-family="Carlito, 'Liberation Sans', sans-serif" font-size="28.5" textLength="28.89" lengthAdjust="spacing">60</text>
<text x="1293.00" y="489.52" font-family="Carlito, 'Liberation Sans', sans-serif" font-size="28.5" textLength="28.89" lengthAdjust="spacing">70</text>
<text x="1293.00" y="448.98" font-family="Carlito, 'Liberation Sans', sans-serif" font-size="28.5" textLength="28.89" lengthAdjust="spacing">80</text>
<text x="1293.00" y="408.44" font-family="Carlito, 'Liberation Sans', sans-serif" font-size="28.5" textLength="28.89" lengthAdjust="spacing">90</text>
<text x="1278.00" y="367.90" font-family="Carlito, 'Liberation Sans', sans-serif" font-size="28.5" textLength="43.34" lengthAdjust="spacing">100</text>
<text transform="translate(1258.90,697.40) rotate(-90)" x="0" y="0" font-family="Carlito, 'Liberation Sans', sans-serif" font-size="31.3" textLength="272.94" lengthAdjust="spacing">Time in quadrant (%)</text>
<text x="1361.60" y="806.70" font-family="Carlito, 'Liberation Sans', sans-serif" font-size="27" textLength="74.94" lengthAdjust="spacing">Target</text>
<text x="1471.40" y="809.70" font-family="Carlito, 'Liberation Sans', sans-serif" font-size="27" textLength="67.87" lengthAdjust="spacing">Other</text>
<text x="1573.60" y="806.70" font-family="Carlito, 'Liberation Sans', sans-serif" font-size="27" textLength="74.24" lengthAdjust="spacing">Target</text>
<text x="1680.30" y="809.70" font-family="Carlito, 'Liberation Sans', sans-serif" font-size="27" textLength="67.77" lengthAdjust="spacing">Other</text>
<text x="1435.70" y="865.00" font-family="Carlito, 'Liberation Sans', sans-serif" font-size="27" textLength="36.69" lengthAdjust="spacing">WT</text>
<text x="1576.90" y="867.00" font-family="Carlito, 'Liberation Sans', sans-serif" font-size="28" textLength="44.42" lengthAdjust="spacing">App</text>
<text x="1622.30" y="858.60" font-family="Carlito, 'Liberation Sans', sans-serif" font-size="18.6" stroke="#000" stroke-width="0.35" textLength="113.45" lengthAdjust="spacing">NL-G-F/NL-G-F</text>
</svg>
</body></html>
